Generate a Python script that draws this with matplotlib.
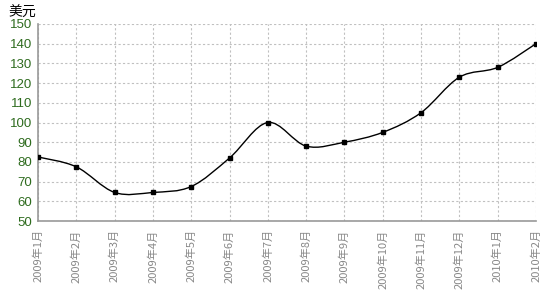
import numpy as np
import matplotlib.pyplot as plt
from matplotlib.path import Path
from matplotlib.patches import PathPatch

months = ["2009年1月", "2009年2月", "2009年3月", "2009年4月", "2009年5月", "2009年6月",
          "2009年7月", "2009年8月", "2009年9月", "2009年10月", "2009年11月", "2009年12月",
          "2010年1月", "2010年2月"]
prices = [82.5, 77.5, 64.5, 64.5, 67.5, 82, 100, 88, 90, 95, 105, 123, 128, 140]

plt.rcParams['font.family'] = ['Noto Sans CJK SC', 'DejaVu Sans']

fig = plt.figure(figsize=(5.56, 2.93), dpi=100)
ax = fig.add_axes([38/556, 1 - 221/293, (536-38)/556, (221-24)/293])

x = np.arange(len(prices))
y = np.array(prices, dtype=float)

# smooth line through the points (catmull-rom as cubic bezier segments)
verts = [(x[0], y[0])]
codes = [Path.MOVETO]
t = 0.5
for i in range(len(x) - 1):
    p0 = np.array([x[max(i-1, 0)], y[max(i-1, 0)]])
    p1 = np.array([x[i], y[i]])
    p2 = np.array([x[i+1], y[i+1]])
    p3 = np.array([x[min(i+2, len(x)-1)], y[min(i+2, len(x)-1)]])
    c1 = p1 + (p2 - p0) * t / 3
    c2 = p2 - (p3 - p1) * t / 3
    verts += [tuple(c1), tuple(c2), tuple(p2)]
    codes += [Path.CURVE4] * 3
ax.add_patch(PathPatch(Path(verts, codes), fill=False, edgecolor='black', lw=1.0, zorder=3))
ax.plot(x, y, 's', color='black', markersize=2.4, zorder=4)

ax.set_xlim(0, len(x) - 1)
ax.set_ylim(50, 150)
ax.set_yticks(range(50, 151, 10))
ax.set_xticks(x)
ax.set_xticklabels(months, rotation=90, color='#888888', fontsize=8)
for lab in ax.get_yticklabels():
    lab.set_family(['Liberation Sans'])
ax.tick_params(axis='y', colors='#2e6b1e', labelsize=9.5, length=0, pad=4)
ax.tick_params(axis='x', length=0, pad=6)
ax.grid(True, linestyle=(0, (2, 2)), color='#c0c0c0', lw=0.8)
for s in ['top', 'right']:
    ax.spines[s].set_visible(False)
for s in ['left', 'bottom']:
    ax.spines[s].set_color('#999999')
    ax.spines[s].set_linewidth(1.2)

fig.text(8/556, 1 - 13/293, "美元", fontsize=10, va='center', ha='left', color='black')

fig.savefig("out.png", dpi=100)
